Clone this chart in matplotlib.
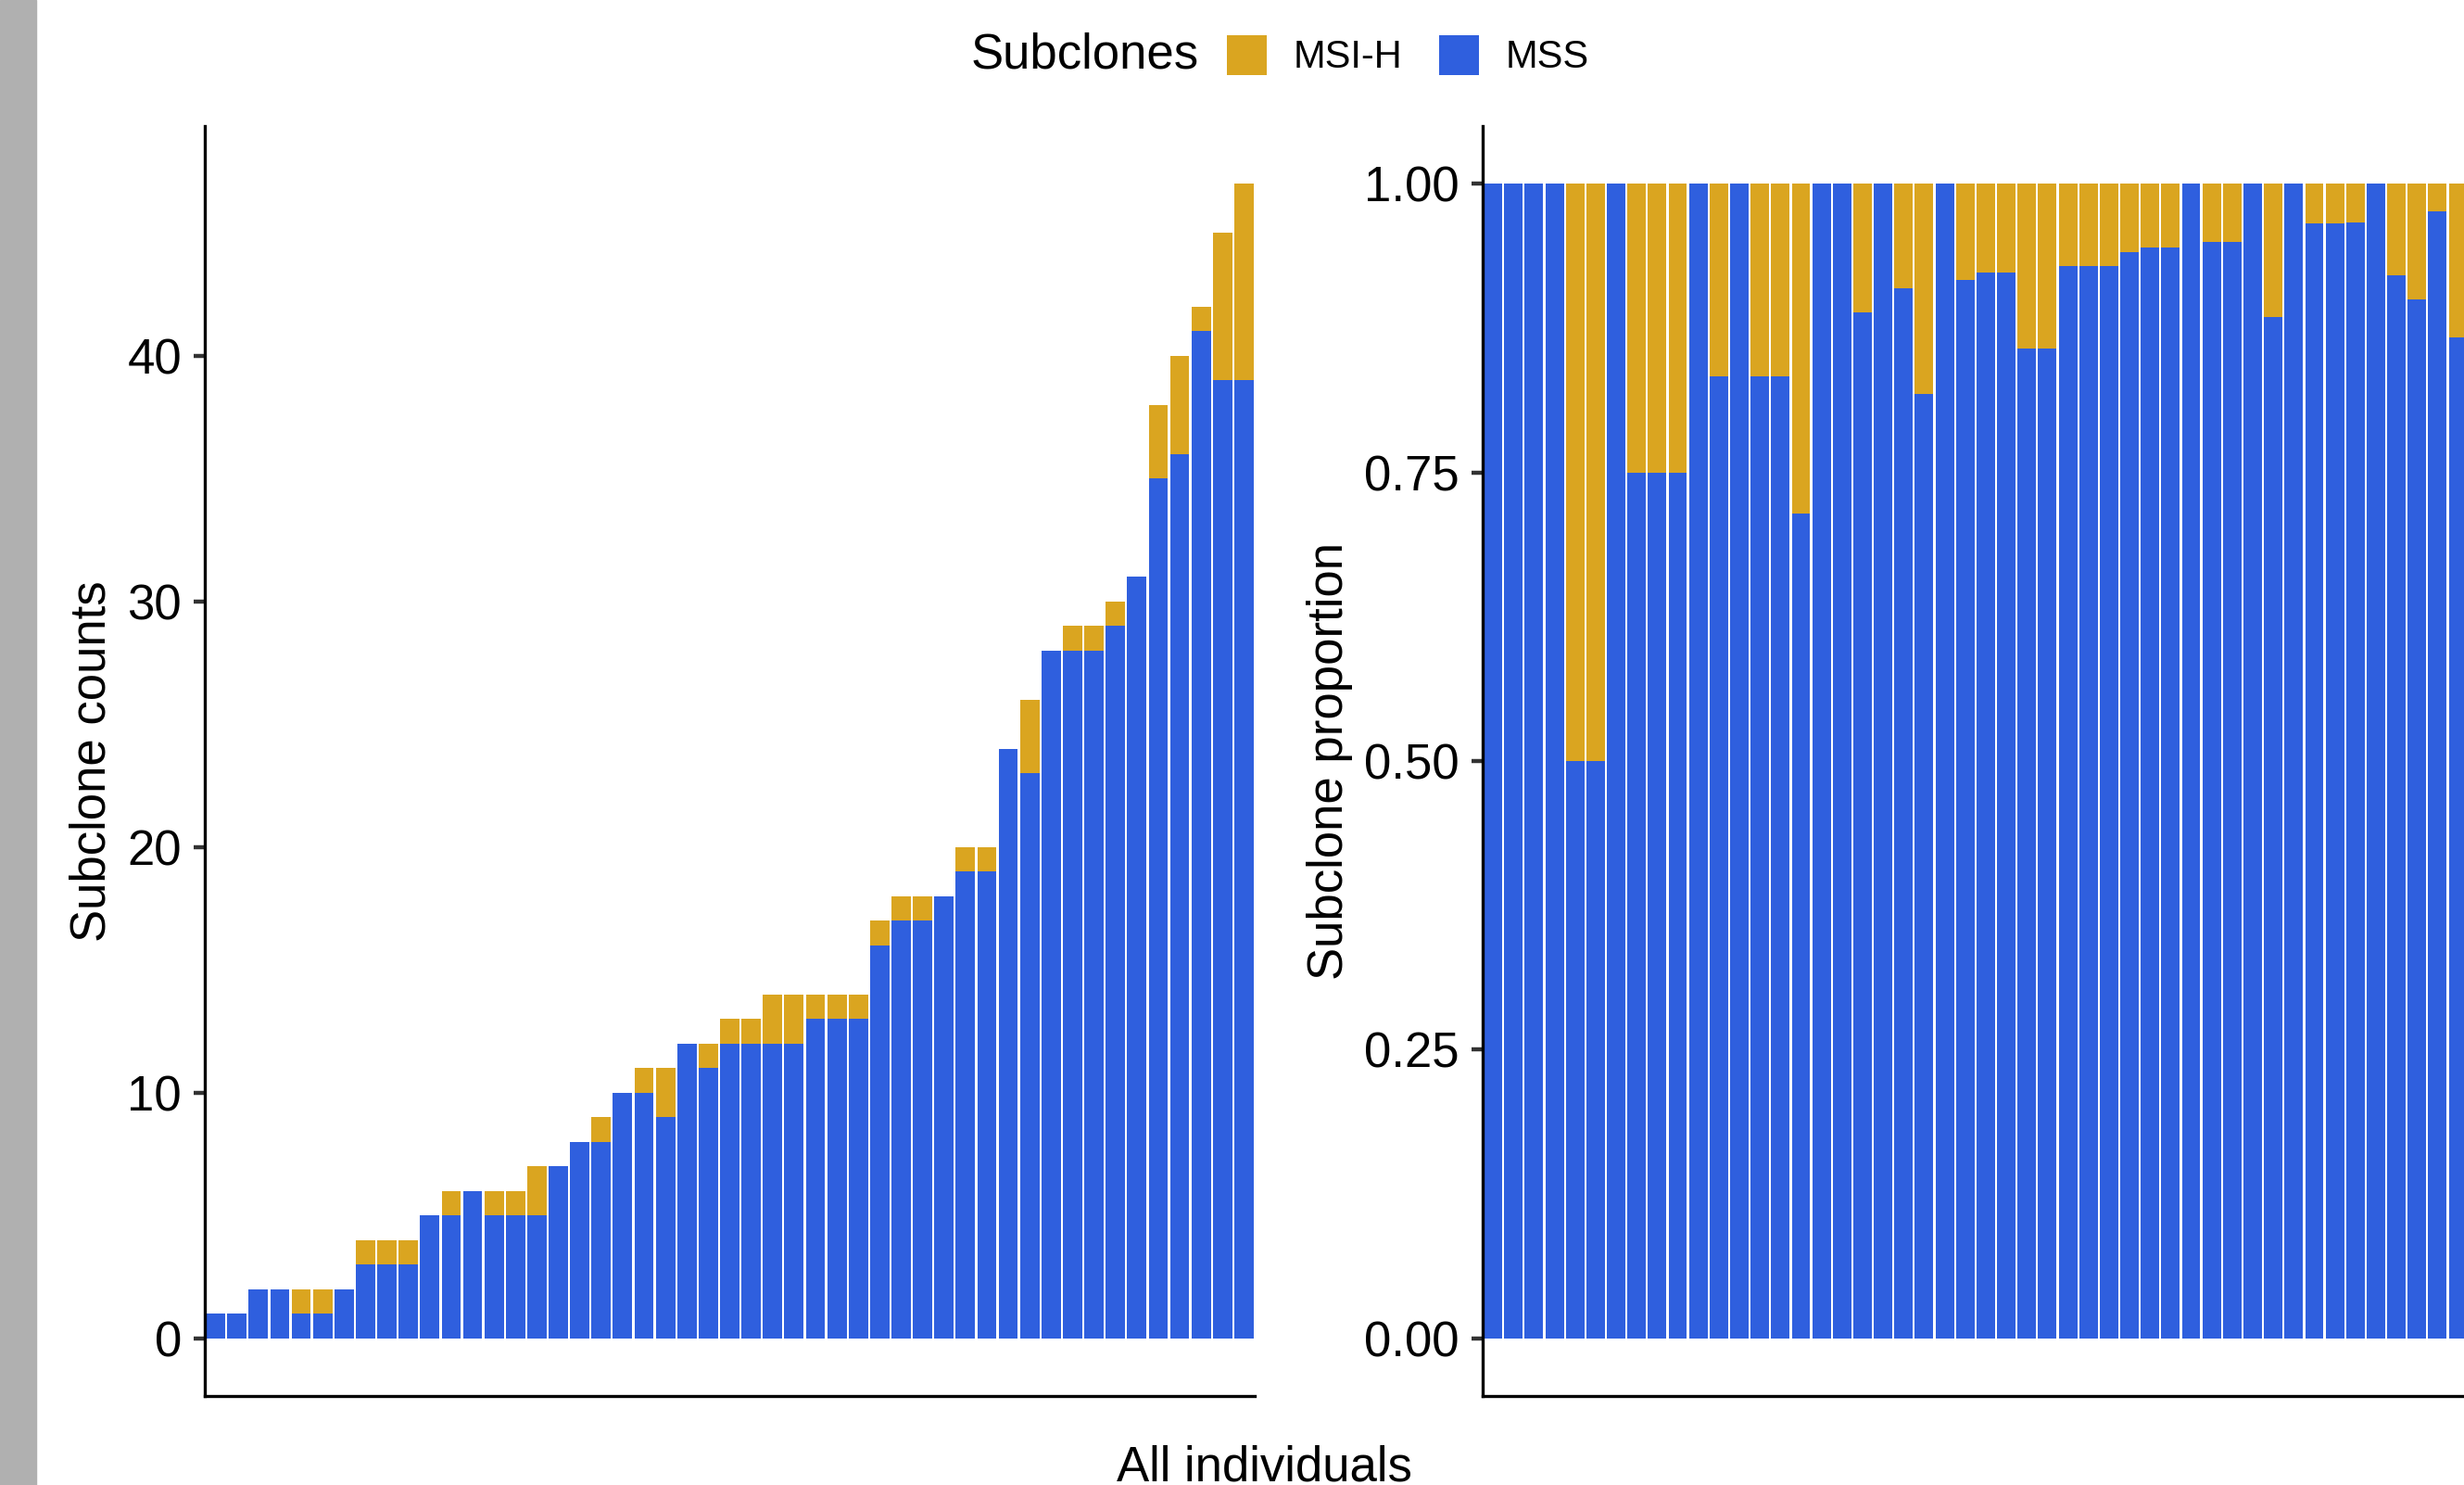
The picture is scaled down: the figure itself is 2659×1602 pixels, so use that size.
import matplotlib
matplotlib.use("Agg")
import matplotlib.pyplot as plt
from matplotlib.patches import Patch, Rectangle
import numpy as np

plt.rcParams['font.family'] = ['Liberation Sans', 'DejaVu Sans']

# subclone counts per individual, sorted by total
mss = [1, 1, 2, 2, 1, 1, 2, 3, 3, 3, 5, 5, 6, 5, 5, 5, 7, 8, 8, 10, 10, 9,
       12, 11, 12, 12, 12, 12, 13, 13, 13, 16, 17, 17, 18, 19, 19, 24, 23,
       28, 28, 28, 29, 31, 35, 36, 41, 39, 39]
msi_h = [0, 0, 0, 0, 1, 1, 0, 1, 1, 1, 0, 1, 0, 1, 1, 2, 0, 0, 1, 0, 1, 2,
         0, 1, 1, 1, 2, 2, 1, 1, 1, 1, 1, 1, 0, 1, 1, 0, 3, 0, 1, 1, 1, 0,
         3, 4, 1, 6, 8]
groups = ['MSI-H', 'MSS']
colors = {'MSI-H': '#DAA520', 'MSS': '#2F5FDE'}

mss = np.array(mss)
msi_h = np.array(msi_h)
total = mss + msi_h
x = np.arange(1, len(mss) + 1)

W, H = 2659, 1602
fig = plt.figure(figsize=(W / 100, H / 100), dpi=100)

# grey strip on the far left
fig.patches.append(Rectangle((0, 0), 39 / W, 1, transform=fig.transFigure,
                             color='#B0B0B0', zorder=0))


def px_axes(x0, y0, x1, y1):
    return fig.add_axes([x0 / W, 1 - y1 / H, (x1 - x0) / W, (y1 - y0) / H])


def style(ax):
    for s in ['top', 'right']:
        ax.spines[s].set_visible(False)
    for s in ['left', 'bottom']:
        ax.spines[s].set_linewidth(2.4)
        ax.spines[s].set_color('black')
    ax.tick_params(axis='y', length=8.6, width=3.2, color='#333333', pad=9.4,
                   labelsize=38, labelcolor='black')
    ax.tick_params(axis='x', bottom=False, labelbottom=False)
    ax.set_xlim(0.5, len(x) + 0.5)


ax1 = px_axes(221, 136, 1354, 1506)
ax1.bar(x, mss, width=0.9, color=colors['MSS'], linewidth=0)
ax1.bar(x, msi_h, bottom=mss, width=0.9, color=colors['MSI-H'], linewidth=0)
ax1.set_ylim(-0.05 * total.max(), 1.05 * total.max())
ax1.set_yticks([0, 10, 20, 30, 40])
style(ax1)
ax1.set_ylabel('Subclone counts', fontsize=38, labelpad=9)

ax2 = px_axes(1600, 136, 1600 + 49 * 22.16, 1506)
ax2.bar(x, mss / total, width=0.9, color=colors['MSS'], linewidth=0)
ax2.bar(x, msi_h / total, bottom=mss / total, width=0.9,
        color=colors['MSI-H'], linewidth=0)
ax2.set_ylim(-0.05, 1.05)
ax2.set_yticks([0, 0.25, 0.5, 0.75, 1.0])
ax2.set_yticklabels(['0.00', '0.25', '0.50', '0.75', '1.00'])
style(ax2)
ax2.set_ylabel('Subclone proportion', fontsize=38, labelpad=9)

fig.text(1364 / W, 1 - 1598 / H, 'All individuals', fontsize=38,
         ha='center', va='baseline')

# legend across the top
fig.text(1048 / W, 1 - 60 / H, 'Subclones', fontsize=38, ha='left',
         va='center')
handles = [Patch(facecolor=colors[g], edgecolor='none') for g in groups]
fig.legend(handles, groups, loc='center left',
           bbox_to_anchor=(1324 / W, 1 - 60 / H), ncol=2, frameon=False,
           fontsize=30, handlelength=1.03, handleheight=1.21,
           handletextpad=0.7, columnspacing=0.94, borderpad=0,
           borderaxespad=0)

fig.savefig('out.png', dpi=100)
